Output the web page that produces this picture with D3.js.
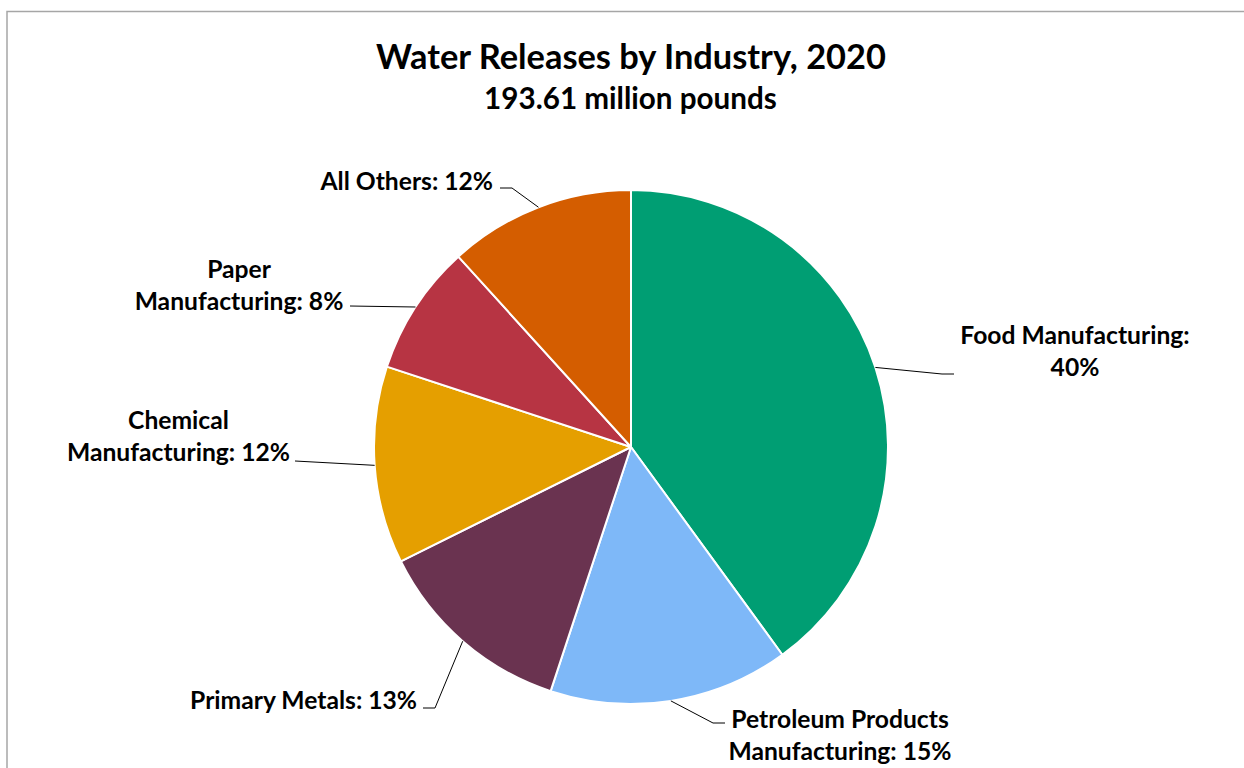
<!DOCTYPE html>
<html>
<head>
<meta charset="utf-8">
<script src="https://cdn.jsdelivr.net/npm/d3@7"></script>
<style>
  html, body { margin: 0; padding: 0; background: #ffffff; }
  svg { display: block; }
  text { font-family: Lato, "Open Sans", sans-serif; font-weight: bold; fill: #000; }
</style>
</head>
<body>
<svg id="chart" width="1244" height="768"></svg>
<script>
// ---- data (million pounds) ----
const categories = ["Food Manufacturing", "Petroleum Products Manufacturing", "Primary Metals",
                    "Chemical Manufacturing", "Paper Manufacturing", "All Others"];
const values = [77.4, 29.2, 24.4, 24.0, 15.9, 22.7];
const colors = ["#009e73", "#7eb8f8", "#6a3350", "#e59f00", "#b73443", "#d45d00"];
const title = "Water Releases by Industry, 2020";
const subtitle = "193.61 million pounds";
// label line breaks (text before the percentage)
const labelLines = [
  ["Food Manufacturing:", "{p}"],
  ["Petroleum Products", "Manufacturing: {p}"],
  ["Primary Metals: {p}"],
  ["Chemical", "Manufacturing: {p}"],
  ["Paper", "Manufacturing: {p}"],
  ["All Others: {p}"]
];

// ---- layout ----
const W = 1244, H = 768;
const cx = 631, cy = 447, R = 257;
const svg = d3.select("#chart");

svg.append("rect")
  .attr("x", 7).attr("y", 11.5).attr("width", 1400).attr("height", 900)
  .attr("fill", "#fff").attr("stroke", "#a6a6a6").attr("stroke-width", 1.5);

function fitText(sel, target) {
  const w = sel.node().getComputedTextLength();
  const fs = parseFloat(sel.style("font-size"));
  sel.style("font-size", (fs * target / w) + "px");
}

const t1 = svg.append("text").attr("x", 631).attr("y", 69).attr("text-anchor", "middle")
  .style("font-size", "32px").text(title);
fitText(t1, 510);
const t2 = svg.append("text").attr("x", 630.5).attr("y", 109).attr("text-anchor", "middle")
  .style("font-size", "24px").text(subtitle);
fitText(t2, 293);

const total = d3.sum(values);
const pie = d3.pie().sort(null).value(d => d)(values);
const arc = d3.arc().innerRadius(0).outerRadius(R);

const g = svg.append("g").attr("transform", `translate(${cx},${cy})`);
g.selectAll("path").data(pie).join("path")
  .attr("d", arc)
  .attr("fill", (d, i) => colors[i])
  .attr("stroke", "#fff").attr("stroke-width", 2).attr("stroke-linejoin", "round");

// label placement: center x, first baseline y; leader: elbow point and end point
const labelPos = [
  {x: 1075, y: 344, anchor: "middle", elbow: [942, 374], end: [954, 374]},
  {x: 840,  y: 728, anchor: "middle", elbow: [713, 723], end: [725, 723]},
  {x: 417,  y: 709, anchor: "end",    elbow: [435, 708], end: [423, 708]},
  {x: 178.5,y: 429, anchor: "middle", elbow: [295, 461], end: [295, 461]},
  {x: 239,  y: 278, anchor: "middle", elbow: [350, 306], end: [350, 306]},
  {x: 493,  y: 190, anchor: "end",    elbow: [512, 188], end: [500, 188]}
];
const lineH = 32;

// label font size fitted from "Primary Metals: 13%" width
let labelFs = 21;
{
  const probe = svg.append("text").style("font-size", "21px").text("Primary Metals: 13%");
  const w = probe.node().getComputedTextLength();
  labelFs = 21 * 227 / w;
  probe.remove();
}

pie.forEach((d, i) => {
  const pct = Math.round(values[i] / total * 100) + "%";
  const mid = (d.startAngle + d.endAngle) / 2;
  const px = cx + R * Math.sin(mid), py = cy - R * Math.cos(mid);
  const L = labelPos[i];
  svg.append("polyline")
    .attr("points", [[px, py], L.elbow, L.end].map(p => p.join(",")).join(" "))
    .attr("fill", "none").attr("stroke", "#000").attr("stroke-width", 1);
  const t = svg.append("text").attr("text-anchor", L.anchor).style("font-size", labelFs + "px");
  labelLines[i].forEach((ln, k) => {
    t.append("tspan").attr("x", L.x).attr("y", L.y + k * lineH).text(ln.replace("{p}", pct));
  });
});
</script>
</body>
</html>
